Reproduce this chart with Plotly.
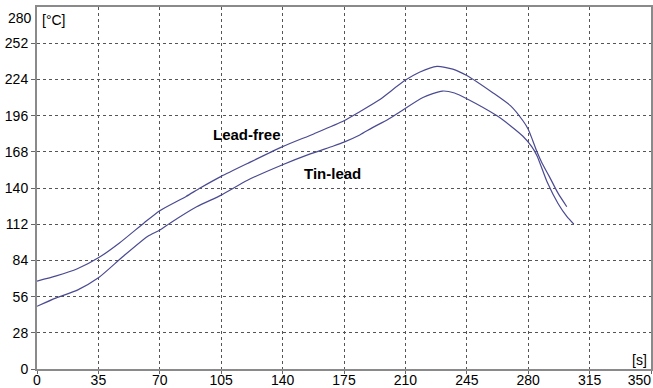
import plotly.graph_objects as go

# Reflow soldering temperature profiles
lead_free_t = [0, 11, 23, 35, 47, 61, 70, 85, 93, 105, 120, 140, 158, 175, 184, 195,
               209, 218, 228, 237, 245, 260, 270, 277, 280, 282.5, 285, 288, 292, 297, 302]
lead_free_temp = [68, 72, 77.5, 86, 97.5, 113, 122.5, 133.5, 140, 149, 159, 172, 182, 192, 199, 208,
                  222.5, 229.5, 234, 232, 227, 213.5, 203.5, 192, 185.5, 177, 168, 159, 149, 136, 125.5]

tin_lead_t = [0, 11, 23, 35, 49, 63, 70, 76, 91, 105, 120, 140, 155, 169, 175, 184, 191, 200,
              207, 220, 231, 238, 245, 262, 270, 277, 282, 285, 291, 297, 302, 306]
tin_lead_temp = [48.5, 55, 61, 70.5, 87, 102.5, 107.5, 113, 125.5, 134.5, 146, 158, 166, 172.5, 175.5, 181, 186.5, 193,
                 199, 210, 215, 213.5, 209, 196, 188, 180, 172, 165, 144, 128, 118, 112]

x_ticks = [0, 35, 70, 105, 140, 175, 210, 245, 280, 315, 350]
y_ticks = [0, 28, 56, 84, 112, 140, 168, 196, 224, 252, 280]

line_color = "#4a4a92"
font_family = "Liberation Sans, Arial, sans-serif"

# the last x label is padded so it ends at the right edge of the frame
x_labels = [str(v) for v in x_ticks[:-1]] + [str(x_ticks[-1]) + "&nbsp;" * 6]

fig = go.Figure()
fig.add_trace(go.Scatter(x=lead_free_t, y=lead_free_temp, mode="lines",
                         line=dict(color=line_color, width=1.2, shape="spline", smoothing=0.6),
                         name="Lead-free", showlegend=False))
fig.add_trace(go.Scatter(x=tin_lead_t, y=tin_lead_temp, mode="lines",
                         line=dict(color=line_color, width=1.2, shape="spline", smoothing=0.6),
                         name="Tin-lead", showlegend=False))

fig.update_layout(
    width=653, height=388,
    margin=dict(l=37, r=2, t=7, b=19),
    paper_bgcolor="white", plot_bgcolor="white",
    font=dict(family=font_family, size=14, color="black"),
    xaxis=dict(range=[0, 350], tickvals=x_ticks, ticktext=x_labels,
               ticklabeloverflow="allow", automargin=False, ticklabelstandoff=-6,
               showgrid=True, gridcolor="#555", griddash="dot", gridwidth=1,
               showline=True, linecolor="#8a8a8a", linewidth=2, mirror=True,
               ticks="outside", ticklen=3, tickcolor="#666", zeroline=False,
               tickfont=dict(size=14)),
    yaxis=dict(range=[0, 280], tickvals=y_ticks[:-1], ticktext=[str(v) for v in y_ticks[:-1]],
               automargin=False,
               showgrid=True, gridcolor="#555", griddash="dot", gridwidth=1,
               showline=True, linecolor="#8a8a8a", linewidth=2, mirror=True,
               ticks="outside", ticklen=4, tickcolor="#666", zeroline=False,
               tickfont=dict(size=14)),
)

annotations = [
    # top y label sits just under the frame edge
    dict(x=0, y=y_ticks[-1], xref="x", yref="y", text=str(y_ticks[-1]), showarrow=False,
         xanchor="right", yanchor="middle", xshift=-3, yshift=-11, font=dict(size=14)),
    dict(x=0, y=280, xref="x", yref="y", text="[°C]", showarrow=False,
         xanchor="left", yanchor="top", xshift=3, yshift=-3, font=dict(size=14)),
    dict(x=350, y=0, xref="x", yref="y", text="[s]", showarrow=False,
         xanchor="right", yanchor="bottom", xshift=-2, yshift=-1, font=dict(size=14)),
    dict(x=119.5, y=181, xref="x", yref="y", text="<b>Lead-free</b>", showarrow=False,
         font=dict(size=15)),
    dict(x=168.5, y=151, xref="x", yref="y", text="<b>Tin-lead</b>", showarrow=False,
         font=dict(size=15)),
]
fig.update_layout(annotations=annotations)

fig.write_html("out.html")
